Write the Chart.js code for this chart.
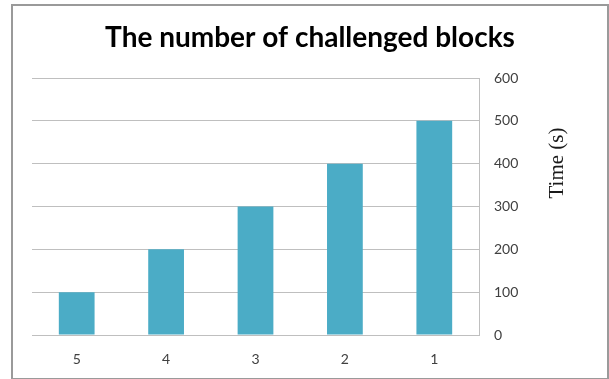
<!DOCTYPE html>
<html lang="en">
<head>
<meta charset="UTF-8">
<title>challenged blocks</title>
<script src="https://cdn.jsdelivr.net/npm/chart.js"></script>
<style>
    * { margin: 0; padding: 0; }
    body { background: #ffffff; width: 609px; height: 379px; overflow: hidden; }
    #wrap { position: relative; width: 609px; height: 379px; }
    #frame {
        position: absolute;
        left: 11px; top: 4px;
        width: 594px; height: 372px;
        border: 2px solid #9a9a9a;
    }
    canvas { position: absolute; left: 0; top: 0; }
</style>
</head>
<body>
<div id="wrap">
    <div id="frame"></div>
    <canvas id="grafico" width="609" height="379"></canvas>
</div>
<script>
    // dados
    const blocos = ['5', '4', '3', '2', '1'];
    const tempos = [100, 200, 300, 400, 500];
    const ticksTempo = [0, 100, 200, 300, 400, 500, 600];

    const titulo = 'The number of challenged blocks';
    const tituloEixo = 'Time (s)';

    // desenha o titulo e o titulo do eixo y
    const textos = {
        id: 'textos',
        afterDraw(chart) {
            const ctx = chart.ctx;
            ctx.save();
            ctx.fillStyle = '#000000';
            ctx.font = 'bold 28px Lato';
            ctx.textAlign = 'center';
            ctx.textBaseline = 'alphabetic';
            ctx.fillText(titulo, 310, 47);

            ctx.translate(557, 163);
            ctx.rotate(-Math.PI / 2);
            ctx.font = '21px "Liberation Serif"';
            ctx.textBaseline = 'middle';
            ctx.fillStyle = '#1a1a1a';
            ctx.fillText(tituloEixo, 0, 0);
            ctx.restore();
        }
    };

    const ctx = document.getElementById('grafico').getContext('2d');
    new Chart(ctx, {
        type: 'bar',
        data: {
            labels: blocos,
            datasets: [{
                label: 'Time',
                data: tempos,
                backgroundColor: '#4bacc6',
                borderWidth: 0,
                categoryPercentage: 0.8,
                barPercentage: 0.5
            }]
        },
        options: {
            responsive: false,
            animation: false,
            layout: { padding: { top: 78, left: 32, right: 0, bottom: 0 } },
            plugins: {
                legend: { display: false },
                tooltip: { enabled: false },
                title: { display: false }
            },
            scales: {
                x: {
                    grid: { display: false, drawTicks: false },
                    border: { display: true, color: '#bfbfbf', width: 1 },
                    ticks: {
                        color: '#404040',
                        font: { family: 'Lato', size: 14 },
                        padding: 16
                    },
                    afterFit: (s) => { s.height = 44; }
                },
                y: {
                    position: 'right',
                    min: 0,
                    max: 600,
                    afterBuildTicks: (s) => { s.ticks = ticksTempo.map(v => ({ value: v })); },
                    grid: { color: '#bfbfbf', drawTicks: false },
                    border: { display: true, color: '#bfbfbf', width: 1 },
                    ticks: {
                        color: '#404040',
                        font: { family: 'Lato', size: 14 },
                        padding: 15
                    },
                    afterFit: (s) => { s.width = 130; }
                }
            }
        },
        plugins: [textos]
    });
</script>
</body>
</html>
